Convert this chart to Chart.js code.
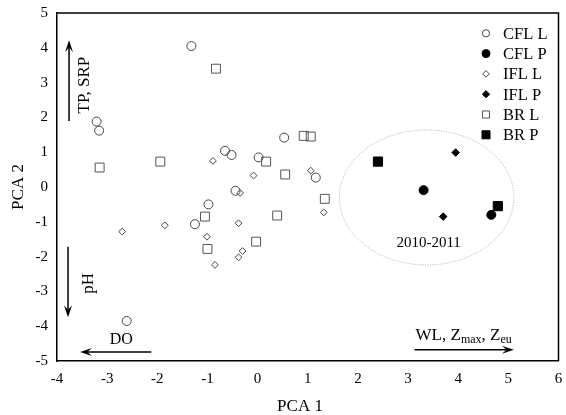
<!DOCTYPE html>
<html>
<head>
<meta charset="utf-8">
<script src="https://cdn.jsdelivr.net/npm/chart.js@4.4.0/dist/chart.umd.min.js"></script>
<style>
  html, body { margin: 0; padding: 0; background: #fff; }
</style>
</head>
<body>
<canvas id="pcaChart" width="566" height="415"></canvas>
<script>
// PCA scores [PCA 1, PCA 2]
const cflL = [[-1.32, 4.05], [-3.21, 1.88], [-3.16, 1.62], [-2.61, -3.85], [-0.65, 1.04], [-0.52, 0.92],
              [0.02, 0.85], [0.53, 1.42], [1.16, 0.27], [-0.44, -0.11], [-0.98, -0.50], [-1.25, -1.07]];
const cflP = [[3.31, -0.09], [4.66, -0.80]];
const iflL = [[-0.89, 0.75], [-0.08, 0.33], [1.06, 0.47], [-0.35, -0.17], [1.32, -0.73], [-1.85, -1.10],
              [-0.38, -1.04], [-1.01, -1.43], [-0.30, -1.84], [-0.38, -2.02], [-0.85, -2.24], [-2.70, -1.28]];
const iflP = [[3.95, 0.99], [3.70, -0.85]];
const brL = [[-0.83, 3.40], [-3.15, 0.56], [-1.94, 0.73], [0.92, 1.47], [1.06, 1.45], [0.17, 0.73],
             [0.55, 0.36], [1.34, -0.34], [-1.05, -0.85], [0.39, -0.82], [-1.00, -1.78], [-0.03, -1.57]];
const brP = [[2.40, 0.73], [4.79, -0.55]];

const seriesNames = ['CFL L', 'CFL P', 'IFL L', 'IFL P', 'BR L', 'BR P'];
const xTicks = [-4, -3, -2, -1, 0, 1, 2, 3, 4, 5, 6];
const yTicks = [-5, -4, -3, -2, -1, 0, 1, 2, 3, 4, 5];

const FONT = 'Liberation Serif, Times New Roman, serif';
const toPts = arr => arr.map(p => ({ x: p[0], y: p[1] }));

// marker styles for each series (plot radius, legend radius)
const styles = [
  { pointStyle: 'circle', radius: 4.5, legendRadius: 3.6, fill: 'rgba(255,255,255,0)', stroke: '#444' },
  { pointStyle: 'circle', radius: 4.5, legendRadius: 4, fill: '#000', stroke: '#000' },
  { pointStyle: 'rectRot', radius: 3.4, legendRadius: 3.3, fill: 'rgba(255,255,255,0)', stroke: '#444' },
  { pointStyle: 'rectRot', radius: 3.8, legendRadius: 3.6, fill: '#000', stroke: '#000' },
  { pointStyle: 'rect', radius: 6.3, legendRadius: 5, fill: 'rgba(255,255,255,0)', stroke: '#555' },
  { pointStyle: 'rect', radius: 6.5, legendRadius: 5.7, fill: '#000', stroke: '#000' }
];
const seriesData = [cflL, cflP, iflL, iflP, brL, brP];

// annotation positions in data units
const ellipseSpec = { cx: 3.37, cy: -0.30, rx: 1.74, ry: 1.94 };
const arrows = [
  { from: [-3.76, 1.90], to: [-3.76, 4.22] },
  { from: [-3.78, -1.72], to: [-3.78, -3.74] },
  { from: [-2.12, -4.74], to: [-3.54, -4.74] },
  { from: [3.13, -4.68], to: [5.11, -4.68] }
];

function drawArrow(ctx, x1, y1, x2, y2) {
  const a = Math.atan2(y2 - y1, x2 - x1);
  const c = Math.cos(a), s = Math.sin(a);
  const len = 12, half = 4;
  ctx.beginPath();
  ctx.moveTo(x1, y1);
  ctx.lineTo(x2 - c * len * 0.6, y2 - s * len * 0.6);
  ctx.stroke();
  ctx.beginPath();
  ctx.moveTo(x2, y2);
  ctx.lineTo(x2 - c * len - s * half, y2 - s * len + c * half);
  ctx.lineTo(x2 - c * len * 0.6, y2 - s * len * 0.6);
  ctx.lineTo(x2 - c * len + s * half, y2 - s * len - c * half);
  ctx.closePath();
  ctx.fill();
}

const overlay = {
  id: 'overlay',
  beforeDatasetsDraw(chart) {
    const { ctx } = chart;
    const xs = chart.scales.x, ys = chart.scales.y;
    const cx = xs.getPixelForValue(ellipseSpec.cx), cy = ys.getPixelForValue(ellipseSpec.cy);
    const rx = Math.abs(xs.getPixelForValue(ellipseSpec.cx + ellipseSpec.rx) - cx);
    const ry = Math.abs(ys.getPixelForValue(ellipseSpec.cy + ellipseSpec.ry) - cy);
    ctx.save();
    ctx.strokeStyle = '#999';
    ctx.lineWidth = 0.8;
    ctx.setLineDash([1, 1.5]);
    ctx.beginPath();
    ctx.ellipse(cx, cy, rx, ry, 0, 0, Math.PI * 2);
    ctx.stroke();
    ctx.restore();
  },
  afterDraw(chart) {
    const { ctx, chartArea } = chart;
    const xs = chart.scales.x, ys = chart.scales.y;
    const px = v => xs.getPixelForValue(v), py = v => ys.getPixelForValue(v);
    ctx.save();

    // frame (top and right sides)
    ctx.strokeStyle = '#000';
    ctx.lineWidth = 1.5;
    ctx.beginPath();
    ctx.moveTo(chartArea.left, chartArea.top);
    ctx.lineTo(chartArea.right, chartArea.top);
    ctx.lineTo(chartArea.right, chartArea.bottom);
    ctx.stroke();

    // arrows
    ctx.fillStyle = '#000';
    ctx.lineWidth = 1.5;
    arrows.forEach(a => drawArrow(ctx, px(a.from[0]), py(a.from[1]), px(a.to[0]), py(a.to[1])));

    // x axis title, sits a bit left of the plot centre in the original
    ctx.font = '17px ' + FONT;
    ctx.textAlign = 'center';
    ctx.textBaseline = 'middle';
    ctx.fillText('PCA 1', 300, 407);

    // labels
    ctx.font = '15px ' + FONT;
    ctx.fillText('2010-2011', px(3.41), py(-1.61));
    ctx.font = '16px ' + FONT;
    ctx.fillText('DO', px(-2.72), py(-4.38));

    ctx.font = '17px ' + FONT;
    ctx.save();
    ctx.translate(px(-3.46), py(2.93));
    ctx.rotate(-Math.PI / 2);
    ctx.fillText('TP, SRP', 0, 0);
    ctx.restore();

    ctx.save();
    ctx.translate(px(-3.37), py(-2.77));
    ctx.rotate(-Math.PI / 2);
    ctx.fillText('pH', 0, 0);
    ctx.restore();

    // WL, Zmax, Zeu with subscripts
    ctx.textAlign = 'left';
    ctx.textBaseline = 'alphabetic';
    let x = px(3.15);
    const base = py(-4.40);
    const parts = [['WL, Z', false], ['max', true], [', Z', false], ['eu', true]];
    parts.forEach(([t, sub]) => {
      ctx.font = (sub ? '12px ' : '17px ') + FONT;
      ctx.fillText(t, x, sub ? base + 3 : base);
      x += ctx.measureText(t).width;
    });

    // legend
    ctx.font = '16.5px ' + FONT;
    ctx.textBaseline = 'middle';
    seriesNames.forEach((name, i) => {
      const st = styles[i];
      const lx = 486, ly = 33.3 + i * 20.3;
      ctx.fillStyle = st.fill;
      ctx.strokeStyle = st.stroke;
      ctx.lineWidth = 1;
      Chart.helpers.drawPoint(ctx, { pointStyle: st.pointStyle, radius: st.legendRadius, rotation: 0, borderWidth: 1 }, lx, ly);
      ctx.fillStyle = '#000';
      ctx.fillText(name, 503, ly + 1);
    });
    ctx.restore();
  }
};

new Chart(document.getElementById('pcaChart').getContext('2d'), {
  type: 'scatter',
  data: {
    datasets: seriesNames.map((name, i) => ({
      label: name,
      data: toPts(seriesData[i]),
      pointStyle: styles[i].pointStyle,
      pointRadius: styles[i].radius,
      pointBackgroundColor: styles[i].fill,
      pointBorderColor: styles[i].stroke,
      pointBorderWidth: 1
    }))
  },
  options: {
    responsive: false,
    animation: false,
    layout: { padding: { left: 0, top: 13, right: 3, bottom: 0 } },
    plugins: { legend: { display: false }, tooltip: { enabled: false } },
    scales: {
      x: {
        type: 'linear', min: -4, max: 6,
        afterBuildTicks: s => { s.ticks = xTicks.map(v => ({ value: v })); },
        ticks: { color: '#000', font: { family: FONT, size: 15 }, padding: 9, maxRotation: 0, autoSkip: false },
        grid: { display: false, drawTicks: false },
        border: { display: true, color: '#000', width: 1.5 },
        title: { display: false },
        afterFit: s => { s.height = 54; s.paddingLeft = 0; s.paddingRight = 0; }
      },
      y: {
        type: 'linear', min: -5, max: 5,
        afterBuildTicks: s => { s.ticks = yTicks.map(v => ({ value: v })); },
        ticks: { color: '#000', font: { family: FONT, size: 15 }, padding: 9, autoSkip: false },
        grid: { display: false, drawTicks: false },
        border: { display: true, color: '#000', width: 1.5 },
        title: { display: true, text: 'PCA 2', color: '#000', font: { family: FONT, size: 17 }, padding: { top: 8, bottom: 0 } },
        afterFit: s => { s.width = 57; s.paddingTop = 0; s.paddingBottom = 0; }
      }
    }
  },
  plugins: [overlay]
});
</script>
</body>
</html>
